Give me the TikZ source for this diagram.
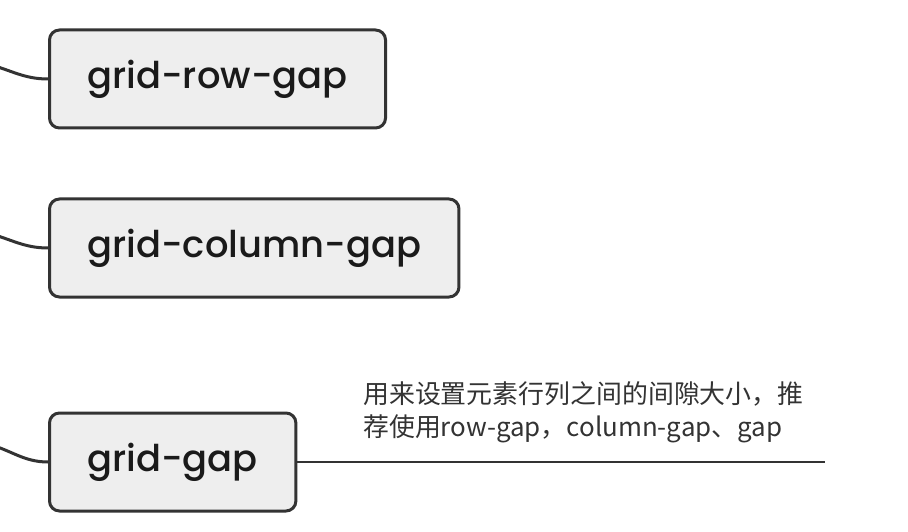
\documentclass[tikz,border=0pt]{standalone}
\usepackage{fontspec}
\setmainfont{Poppins}
\newfontfamily\topicfont{Poppins Medium}
\newfontfamily\cjk{Noto Sans CJK SC}
\usepackage{xcolor}
\usetikzlibrary{positioning}

\definecolor{linegray}{HTML}{333333}
\definecolor{boxgray}{HTML}{EEEEEE}
\definecolor{textgray}{HTML}{1A1A1A}

\begin{document}
\begin{tikzpicture}[
  x=1bp, y=-1bp,
  topic/.style={
     rectangle, rounded corners=10bp,
     draw=linegray, line width=3bp,
     fill=boxgray, text=textgray,
     font=\topicfont\fontsize{37}{42}\selectfont,
     inner xsep=38bp, inner ysep=0bp,
     minimum height=98bp, anchor=west},
  branch/.style={draw=linegray, line width=3bp},
  note/.style={font=\cjk\fontsize{26}{34}\selectfont, text=linegray,
     align=left, inner sep=0pt, anchor=north west},
  rule/.style={draw=linegray, line width=2bp}]
\useasboundingbox (0,0) rectangle (908,532);
\clip (0,0) rectangle (908,532);
% topics
\node[topic] (rowgap) at (48,79)  {grid-row-gap};
\node[topic] (colgap) at (48,248) {grid-column-gap};
\node[topic] (gap)    at (48,462) {grid-gap};
% note on grid-gap
\node[note] (note) at (363,381) {用来设置元素行列之间的间隙大小，推\\荐使用row-gap，column-gap、gap};
\coordinate (noteend) at (825,461);
% branches from the parent (out of frame)
\coordinate (in1) at (-12,64);
\coordinate (in2) at (-12,233);
\coordinate (in3) at (-12,444);
\draw[branch] (in1) to[out=-15,in=180] (rowgap.west);
\draw[branch] (in2) to[out=-15,in=180] (colgap.west);
\draw[branch] (in3) to[out=-15,in=180] (gap.west);
\draw[rule] (gap.east) -- (gap.east -| noteend) coordinate (noteline);
\end{tikzpicture}
\end{document}
